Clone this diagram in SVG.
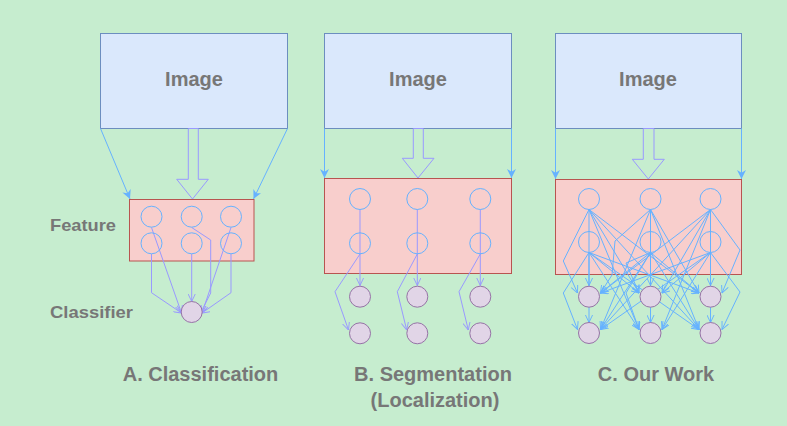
<svg xmlns="http://www.w3.org/2000/svg" width="787" height="426" viewBox="0 0 787 426">
<style>
.bg{fill:#c6edcf}
.img{fill:#dae8fc;stroke:#6c8ebf;stroke-width:1}
.feat{fill:#f8cecc;stroke:#b85450;stroke-width:1}
.fn{fill:none;stroke:#66b2ff;stroke-width:1}
.on{fill:#e1d5e7;stroke:#9673a6;stroke-width:1}
.t{font-family:"Liberation Sans",Arial,sans-serif;font-weight:bold;fill:#777777}
.in{fill:none;stroke:#66b2ff;stroke-width:1;marker-end:url(#fa)}
.big{fill:none;stroke:#9999ff;stroke-width:1}
.lv{fill:none;stroke:#9999ff;stroke-width:1;marker-end:url(#ol)}
.bl{fill:none;stroke:#66b2ff;stroke-width:1;marker-end:url(#ob)}
</style>
<defs>
<marker id="fa" viewBox="0 0 10 10" refX="10" refY="5" markerWidth="9" markerHeight="9" markerUnits="userSpaceOnUse" orient="auto"><path d="M0,0 L10,5 L0,10 L3,5 z" fill="#66b2ff"/></marker>
<marker id="ol" viewBox="0 0 10 10" refX="9.5" refY="5" markerWidth="8" markerHeight="8" markerUnits="userSpaceOnUse" orient="auto"><path d="M0,0.5 L9.5,5 L0,9.5" fill="none" stroke="#9999ff" stroke-width="1.2"/></marker>
<marker id="ob" viewBox="0 0 10 10" refX="9.5" refY="5" markerWidth="8" markerHeight="8" markerUnits="userSpaceOnUse" orient="auto"><path d="M0,0.5 L9.5,5 L0,9.5" fill="none" stroke="#66b2ff" stroke-width="1.2"/></marker>
</defs>
<rect class="bg" x="0" y="0" width="787" height="426"/>

<g id="imageA"><rect class="img" x="100.5" y="33.5" width="187" height="95"/><text class="t" x="194" y="86" font-size="20" text-anchor="middle">Image</text></g>
<g id="imageB"><rect class="img" x="324.5" y="33.5" width="187" height="95"/><text class="t" x="418" y="86" font-size="20" text-anchor="middle">Image</text></g>
<g id="imageC"><rect class="img" x="555.5" y="33.5" width="186" height="95"/><text class="t" x="648" y="86" font-size="20" text-anchor="middle">Image</text></g>

<g id="featureA"><rect class="feat" x="129.5" y="199.5" width="124.5" height="61.5"/></g>
<g id="featureB"><rect class="feat" x="324.5" y="178.5" width="187" height="95"/></g>
<g id="featureC"><rect class="feat" x="555.5" y="179.5" width="186" height="95"/></g>

<g id="labels">
<text class="t" x="50" y="231" font-size="17" textLength="66" lengthAdjust="spacingAndGlyphs">Feature</text>
<text class="t" x="50" y="318" font-size="17" textLength="83" lengthAdjust="spacingAndGlyphs">Classifier</text>
<text class="t" x="200.5" y="381" font-size="20" text-anchor="middle">A. Classification</text>
<text class="t" x="433" y="381" font-size="20" text-anchor="middle">B. Segmentation</text>
<text class="t" x="435" y="407" font-size="20" text-anchor="middle">(Localization)</text>
<text class="t" x="656" y="381" font-size="20" text-anchor="middle">C. Our Work</text>
</g>

<g id="connectors">
<!-- image to feature -->
<path class="in" d="M100.5,128.5 L130,199"/>
<path class="in" d="M287.5,128.5 L253.5,199"/>
<path class="in" d="M324.5,128.5 L324.5,178"/>
<path class="in" d="M511.5,128.5 L511.5,178"/>
<path class="in" d="M555.5,128.5 L555.5,179"/>
<path class="in" d="M741.5,128.5 L741.5,179"/>
<!-- big hollow arrows -->
<polygon class="big" points="188.3,128.5 188.3,179.3 176.7,179.3 192.5,199 208.3,179.3 198.3,179.3 198.3,128.5"/>
<polygon class="big" points="413.3,128.5 413.3,158.3 402.3,158.3 418,178 434,158.3 423.3,158.3 423.3,128.5"/>
<polygon class="big" points="643.3,128.5 643.3,159.3 632.3,159.3 648.3,179 664.3,159.3 654,159.3 654,128.5"/>
<!-- A -->
<path class="lv" d="M151.5,227.5 L181.5,313"/>
<path class="lv" d="M151.5,254 L151.5,292.7 L181.5,313"/>
<path class="lv" d="M191.7,227.5 L210.7,240 L210.7,293 L200,314"/>
<path class="lv" d="M191.7,254 L191.7,301.5"/>
<path class="lv" d="M231,227.5 L202,313"/>
<path class="lv" d="M231,254 L231,292.7 L202,313"/>
<!-- B -->
<path class="lv" d="M360,209.5 L360,285.5"/>
<path class="lv" d="M417.3,209.5 L417.3,285.5"/>
<path class="lv" d="M480.3,209.5 L480.3,285.5"/>
<path class="lv" d="M360,254 L335,291.7 L348.5,330"/>
<path class="lv" d="M417.3,254 L397.3,291.7 L406.7,330"/>
<path class="lv" d="M480.3,254 L459,291.7 L468.3,330"/>
<!-- C same column -->
<path class="bl" d="M589,209.5 L589,322.5"/>
<path class="bl" d="M589,252.5 L589,285.5"/>
<path class="bl" d="M589,209.5 L563.3,261 L577.5,293"/>
<path class="bl" d="M589,252.5 L563.3,293 L577.5,329.5"/>
<path class="bl" d="M650.5,209.5 L650.5,322.5"/>
<path class="bl" d="M650.5,252.5 L650.5,285.5"/>
<path class="bl" d="M650.5,209.5 L615,241 L612,275 L600.5,293"/>
<path class="bl" d="M650.5,252.5 L626,263 L639,293"/>
<path class="bl" d="M710.5,209.5 L710.5,322.5"/>
<path class="bl" d="M710.5,252.5 L710.5,285.5"/>
<path class="bl" d="M710.5,209.5 L740,250 L722,293"/>
<path class="bl" d="M710.5,252.5 L740,292 L722,329.5"/>
<!-- C cross column: from left col -->
<path class="bl" d="M589,209.5 L639,293"/>
<path class="bl" d="M589,209.5 L639,329.5"/>
<path class="bl" d="M589,209.5 L699,293"/>
<path class="bl" d="M589,209.5 L699,329.5"/>
<path class="bl" d="M589,252.5 L639,293"/>
<path class="bl" d="M589,252.5 L639,329.5"/>
<path class="bl" d="M589,252.5 L699,293"/>
<path class="bl" d="M589,252.5 L699,329.5"/>
<!-- from middle col -->
<path class="bl" d="M650.5,209.5 L600.5,329.5"/>
<path class="bl" d="M650.5,209.5 L699,293"/>
<path class="bl" d="M650.5,209.5 L699,329.5"/>
<path class="bl" d="M650.5,252.5 L600.5,293"/>
<path class="bl" d="M650.5,252.5 L600.5,329.5"/>
<path class="bl" d="M650.5,252.5 L699,293"/>
<path class="bl" d="M650.5,252.5 L699,329.5"/>
<path class="bl" d="M650.5,252.5 L626,293 L639,329.5"/>
<!-- from right col -->
<path class="bl" d="M710.5,209.5 L662,293"/>
<path class="bl" d="M710.5,209.5 L662,329.5"/>
<path class="bl" d="M710.5,209.5 L600.5,293"/>
<path class="bl" d="M710.5,209.5 L600.5,329.5"/>
<path class="bl" d="M710.5,252.5 L662,293"/>
<path class="bl" d="M710.5,252.5 L662,329.5"/>
<path class="bl" d="M710.5,252.5 L600.5,293"/>
<path class="bl" d="M710.5,252.5 L600.5,329.5"/>
</g>

<g id="featA-nodes">
<circle class="fn" cx="151.5" cy="216.7" r="10.5"/><circle class="fn" cx="191.7" cy="216.7" r="10.5"/><circle class="fn" cx="231" cy="216.7" r="10.5"/>
<circle class="fn" cx="151.5" cy="243.3" r="10.5"/><circle class="fn" cx="191.7" cy="243.3" r="10.5"/><circle class="fn" cx="231" cy="243.3" r="10.5"/>
</g>
<g id="classifierA"><circle class="on" cx="191.7" cy="312" r="10.5"/></g>

<g id="featB-nodes">
<circle class="fn" cx="360" cy="199" r="10.5"/><circle class="fn" cx="417.3" cy="199" r="10.5"/><circle class="fn" cx="480.3" cy="199" r="10.5"/>
<circle class="fn" cx="360" cy="243.3" r="10.5"/><circle class="fn" cx="417.3" cy="243.3" r="10.5"/><circle class="fn" cx="480.3" cy="243.3" r="10.5"/>
</g>
<g id="outB-nodes">
<circle class="on" cx="360" cy="296.7" r="10.5"/><circle class="on" cx="417.3" cy="296.7" r="10.5"/><circle class="on" cx="480.3" cy="296.7" r="10.5"/>
<circle class="on" cx="360" cy="333.3" r="10.5"/><circle class="on" cx="417.3" cy="333.3" r="10.5"/><circle class="on" cx="480.3" cy="333.3" r="10.5"/>
</g>

<g id="featC-nodes">
<circle class="fn" cx="589" cy="199" r="10.5"/><circle class="fn" cx="650.5" cy="199" r="10.5"/><circle class="fn" cx="710.5" cy="199" r="10.5"/>
<circle class="fn" cx="589" cy="242" r="10.5"/><circle class="fn" cx="650.5" cy="242" r="10.5"/><circle class="fn" cx="710.5" cy="242" r="10.5"/>
</g>
<g id="outC-nodes">
<circle class="on" cx="589" cy="296.7" r="10.5"/><circle class="on" cx="650.5" cy="296.7" r="10.5"/><circle class="on" cx="710.5" cy="296.7" r="10.5"/>
<circle class="on" cx="589" cy="333" r="10.5"/><circle class="on" cx="650.5" cy="333" r="10.5"/><circle class="on" cx="710.5" cy="333" r="10.5"/>
</g>
</svg>
